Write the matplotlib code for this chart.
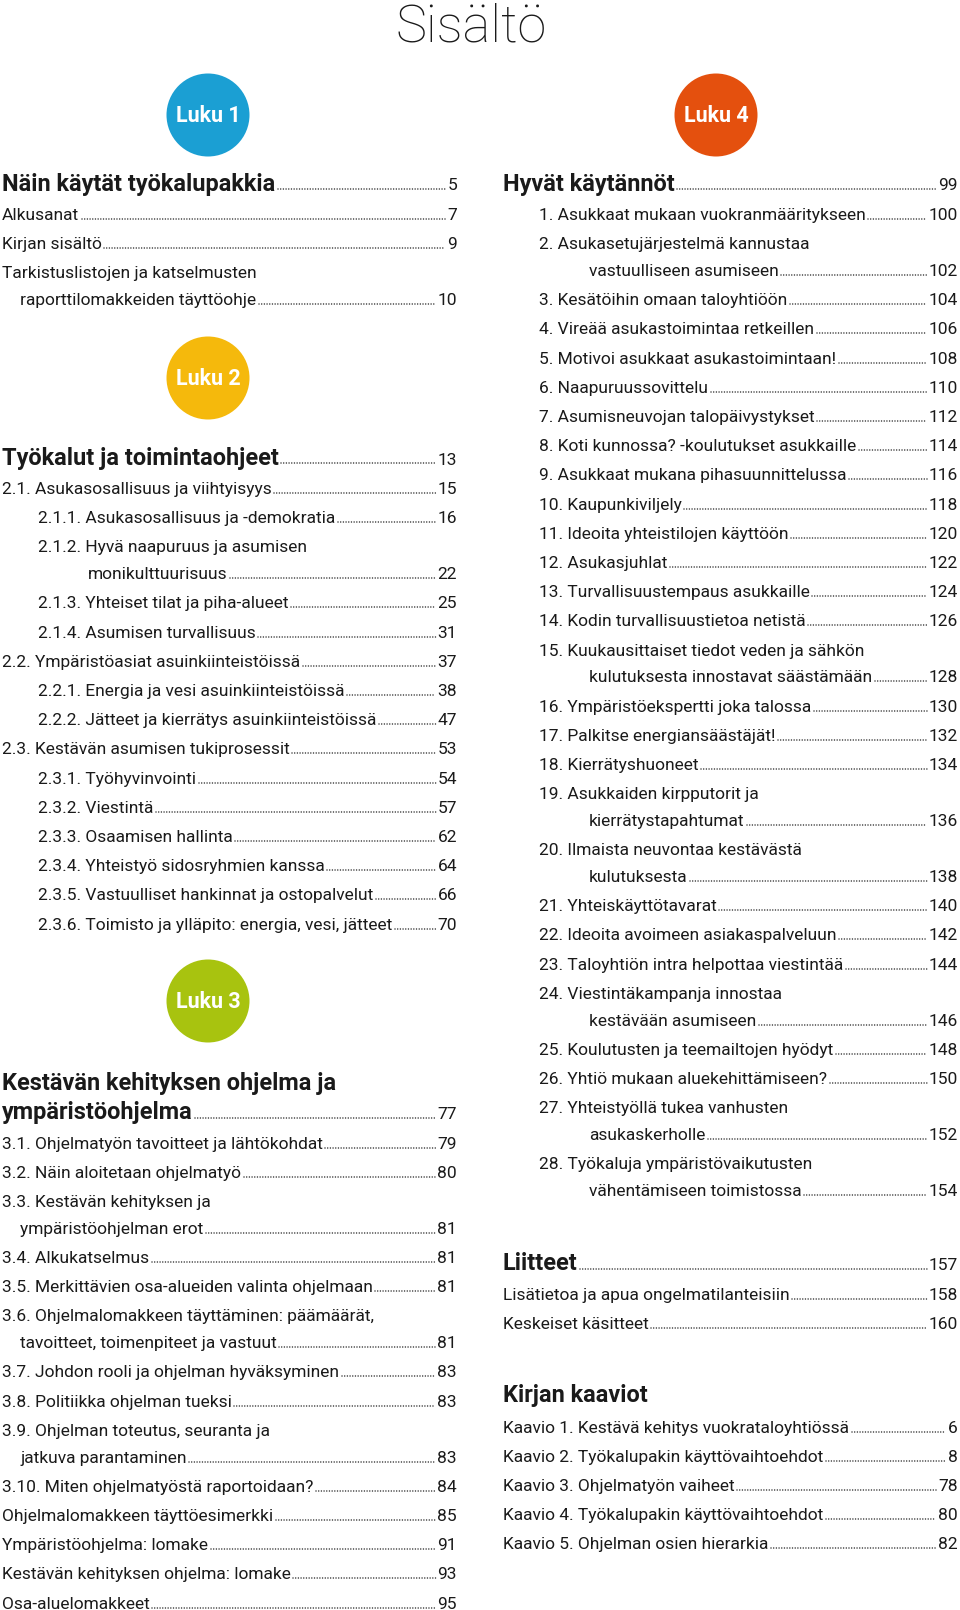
import matplotlib.pyplot as plt
from matplotlib.patches import Circle

plt.rcParams['font.family'] = ['Roboto', 'DejaVu Sans']

# ---- data ----
page_title = 'Sisältö'
luku_labels = ['Luku 1', 'Luku 2', 'Luku 3', 'Luku 4']
luku_colors = ['#1b9fd3', '#f5b90c', '#a8c30f', '#e4500e']

head1 = ('Näin käytät työkalupakkia', '5')
sec1_titles = ['Alkusanat', 'Kirjan sisältö',
               'Tarkistuslistojen ja katselmusten\nraporttilomakkeiden täyttöohje']
sec1_pages = ['7', '9', '10']
sec1_levels = [0, 0, 0]

head2 = ('Työkalut ja toimintaohjeet', '13')
sec2_titles = ['2.1. Asukasosallisuus ja viihtyisyys',
               '2.1.1. Asukasosallisuus ja -demokratia',
               '2.1.2. Hyvä naapuruus ja asumisen\nmonikulttuurisuus',
               '2.1.3. Yhteiset tilat ja piha-alueet',
               '2.1.4. Asumisen turvallisuus',
               '2.2. Ympäristöasiat asuinkiinteistöissä',
               '2.2.1. Energia ja vesi asuinkiinteistöissä',
               '2.2.2. Jätteet ja kierrätys asuinkiinteistöissä',
               '2.3. Kestävän asumisen tukiprosessit',
               '2.3.1. Työhyvinvointi',
               '2.3.2. Viestintä',
               '2.3.3. Osaamisen hallinta',
               '2.3.4. Yhteistyö sidosryhmien kanssa',
               '2.3.5. Vastuulliset hankinnat ja ostopalvelut',
               '2.3.6. Toimisto ja ylläpito: energia, vesi, jätteet']
sec2_pages = ['15', '16', '22', '25', '31', '37', '38', '47', '53', '54', '57',
              '62', '64', '66', '70']
sec2_levels = [0, 1, 1, 1, 1, 0, 1, 1, 0, 1, 1, 1, 1, 1, 1]

head3 = ('Kestävän kehityksen ohjelma ja\nympäristöohjelma', '77')
sec3_titles = ['3.1. Ohjelmatyön tavoitteet ja lähtökohdat',
               '3.2. Näin aloitetaan ohjelmatyö',
               '3.3. Kestävän kehityksen ja\nympäristöohjelman erot',
               '3.4. Alkukatselmus',
               '3.5. Merkittävien osa-alueiden valinta ohjelmaan',
               '3.6. Ohjelmalomakkeen täyttäminen: päämäärät,\ntavoitteet, toimenpiteet ja vastuut',
               '3.7. Johdon rooli ja ohjelman hyväksyminen',
               '3.8. Politiikka ohjelman tueksi',
               '3.9. Ohjelman toteutus, seuranta ja\njatkuva parantaminen',
               '3.10. Miten ohjelmatyöstä raportoidaan?',
               'Ohjelmalomakkeen täyttöesimerkki',
               'Ympäristöohjelma: lomake',
               'Kestävän kehityksen ohjelma: lomake',
               'Osa-aluelomakkeet']
sec3_pages = ['79', '80', '81', '81', '81', '81', '83', '83', '83', '84', '85',
              '91', '93', '95']
sec3_levels = [0] * 14

head4 = ('Hyvät käytännöt', '99')
sec4_titles = ['1. Asukkaat mukaan vuokranmääritykseen',
               '2. Asukasetujärjestelmä kannustaa\nvastuulliseen asumiseen',
               '3. Kesätöihin omaan taloyhtiöön',
               '4. Vireää asukastoimintaa retkeillen',
               '5. Motivoi asukkaat asukastoimintaan!',
               '6. Naapuruussovittelu',
               '7. Asumisneuvojan talopäivystykset',
               '8. Koti kunnossa? -koulutukset asukkaille',
               '9. Asukkaat mukana pihasuunnittelussa',
               '10. Kaupunkiviljely',
               '11. Ideoita yhteistilojen käyttöön',
               '12. Asukasjuhlat',
               '13. Turvallisuustempaus asukkaille',
               '14. Kodin turvallisuustietoa netistä',
               '15. Kuukausittaiset tiedot veden ja sähkön\nkulutuksesta innostavat säästämään',
               '16. Ympäristöekspertti joka talossa',
               '17. Palkitse energiansäästäjät!',
               '18. Kierrätyshuoneet',
               '19. Asukkaiden kirpputorit ja\nkierrätystapahtumat',
               '20. Ilmaista neuvontaa kestävästä\nkulutuksesta',
               '21. Yhteiskäyttötavarat',
               '22. Ideoita avoimeen asiakaspalveluun',
               '23. Taloyhtiön intra helpottaa viestintää',
               '24. Viestintäkampanja innostaa\nkestävään asumiseen',
               '25. Koulutusten ja teemailtojen hyödyt',
               '26. Yhtiö mukaan aluekehittämiseen?',
               '27. Yhteistyöllä tukea vanhusten\nasukaskerholle',
               '28. Työkaluja ympäristövaikutusten\nvähentämiseen toimistossa']
sec4_pages = ['100', '102', '104', '106', '108', '110', '112', '114', '116',
              '118', '120', '122', '124', '126', '128', '130', '132', '134',
              '136', '138', '140', '142', '144', '146', '148', '150', '152',
              '154']
sec4_levels = [0] * 28

head5 = ('Liitteet', '157')
sec5_titles = ['Lisätietoa ja apua ongelmatilanteisiin', 'Keskeiset käsitteet']
sec5_pages = ['158', '160']
sec5_levels = [0, 0]

head6 = ('Kirjan kaaviot', '')
sec6_titles = ['Kaavio 1. Kestävä kehitys vuokrataloyhtiössä',
               'Kaavio 2. Työkalupakin käyttövaihtoehdot',
               'Kaavio 3. Ohjelmatyön vaiheet',
               'Kaavio 4. Työkalupakin käyttövaihtoehdot',
               'Kaavio 5. Ohjelman osien hierarkia']
sec6_pages = ['6', '8', '78', '80', '82']
sec6_levels = [0] * 5

# ---- layout ----
W, H = 960, 1610
fig = plt.figure(figsize=(W / 100, H / 100), dpi=100)
ax = fig.add_axes([0, 0, 1, 1])
ax.set_xlim(0, W)
ax.set_ylim(H, 0)
ax.axis('off')
renderer = fig.canvas.get_renderer()

TXT = '#1a1a1a'
BODY = 12.5
HEAD = 16.9
STEP = 29.2
WRAP = 26.8


def leader(t_label, x_right, page, y):
    pt = ax.text(x_right, y, page, ha='right', va='baseline', fontsize=BODY,
                 color=TXT)
    if not page:
        return
    inv = ax.transData.inverted()
    x0 = inv.transform(t_label.get_window_extent(renderer).get_points())[1][0]
    x1 = inv.transform(pt.get_window_extent(renderer).get_points())[0][0]
    ax.plot([x0 + 2.5, x1 - 2], [y - 1, y - 1], color='#222222', lw=1.1,
            linestyle=(0, (0.01, 1.75)), dash_capstyle='round')


def entry(title, page, x, xwrap, xr, y, size=BODY, weight='normal', wrap=WRAP):
    lines = title.split('\n')
    for k, line in enumerate(lines):
        t = ax.text(x if k == 0 else xwrap, y, line, ha='left', va='baseline',
                    fontsize=size, color=TXT, fontweight=weight)
        if k < len(lines) - 1:
            y += wrap
    leader(t, xr, page, y)
    return y


def section(titles, pages, levels, xs, xwraps, xr, y):
    for title, page, lv in zip(titles, pages, levels):
        y = entry(title, page, xs[lv], xwraps[lv], xr, y) + STEP
    return y


def badge(i, cx, cy):
    ax.add_patch(Circle((cx, cy), 41.5, color=luku_colors[i], lw=0))
    ax.text(cx, cy + 1, luku_labels[i], ha='center', va='center', color='white',
            fontsize=15.5, fontweight='bold')


ax.text(471, 41, page_title, ha='center', va='baseline', fontsize=37.5,
        color=TXT, fontweight='light')

# left column
LX, LR = 2, 457
badge(0, 208, 115)
y = entry(head1[0], head1[1], LX, LX, LR, 190.5, size=HEAD, weight='bold')
section(sec1_titles, sec1_pages, sec1_levels, [LX], [20], LR, y + 29.5)

badge(1, 208, 378)
y = entry(head2[0], head2[1], LX, LX, LR, 464.5, size=HEAD, weight='bold')
section(sec2_titles, sec2_pages, sec2_levels, [LX, 38], [20, 88], LR, y + 29.5)

badge(2, 208, 1001)
y = entry(head3[0], head3[1], LX, LX, LR, 1089.5, size=HEAD, weight='bold',
          wrap=29)
section(sec3_titles, sec3_pages, sec3_levels, [LX], [20], LR, y + 30)

# right column
RX, RR = 503, 958
badge(3, 716, 115)
y = entry(head4[0], head4[1], RX, RX, RR, 190.5, size=HEAD, weight='bold')
section(sec4_titles, sec4_pages, sec4_levels, [539], [589], RR, y + 29.5)

y = entry(head5[0], head5[1], RX, RX, RR, 1269.5, size=HEAD, weight='bold')
section(sec5_titles, sec5_pages, sec5_levels, [RX], [RX], RR, y + 30)

y = entry(head6[0], head6[1], RX, RX, RR, 1401.5, size=HEAD, weight='bold')
section(sec6_titles, sec6_pages, sec6_levels, [RX], [RX], RR, y + 31)

fig.savefig('out.png', dpi=100, facecolor='white')
